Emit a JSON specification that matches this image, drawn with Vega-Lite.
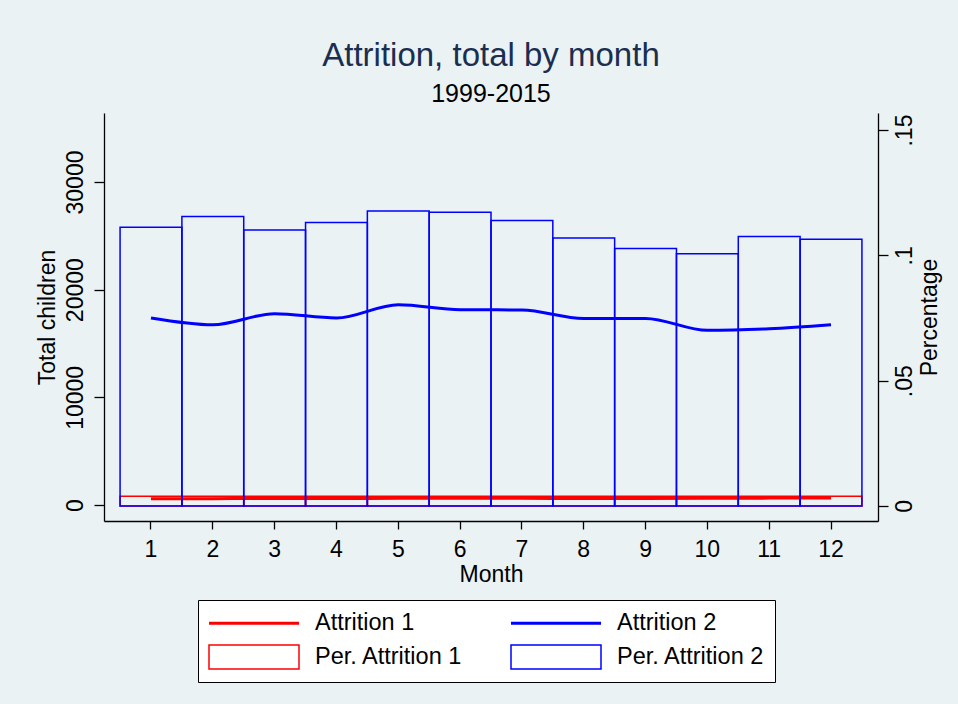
{
  "$schema": "https://vega.github.io/schema/vega-lite/v6.json",
  "width": 774,
  "height": 408,
  "autosize": {"type": "none"},
  "padding": {"left": 104, "top": 113, "right": 80, "bottom": 183},
  "background": "#EAF2F3",
  "title": {
    "text": "Attrition, total by month",
    "subtitle": "1999-2015",
    "anchor": "middle",
    "frame": "group",
    "font": "Liberation Sans",
    "fontSize": 33,
    "fontWeight": "normal",
    "color": "#1A2E52",
    "subtitleFont": "Liberation Sans",
    "subtitleFontSize": 25,
    "subtitleColor": "#000000",
    "subtitlePadding": 9,
    "offset": 6
  },
  "data": {
    "values": [
      {"month": 1, "series": "Attrition 1", "value": 580},
      {"month": 2, "series": "Attrition 1", "value": 590},
      {"month": 3, "series": "Attrition 1", "value": 600},
      {"month": 4, "series": "Attrition 1", "value": 600},
      {"month": 5, "series": "Attrition 1", "value": 620},
      {"month": 6, "series": "Attrition 1", "value": 620},
      {"month": 7, "series": "Attrition 1", "value": 620},
      {"month": 8, "series": "Attrition 1", "value": 600},
      {"month": 9, "series": "Attrition 1", "value": 610},
      {"month": 10, "series": "Attrition 1", "value": 620},
      {"month": 11, "series": "Attrition 1", "value": 640},
      {"month": 12, "series": "Attrition 1", "value": 650},
      {"month": 1, "series": "Attrition 2", "value": 17370},
      {"month": 2, "series": "Attrition 2", "value": 16740},
      {"month": 3, "series": "Attrition 2", "value": 17770},
      {"month": 4, "series": "Attrition 2", "value": 17370},
      {"month": 5, "series": "Attrition 2", "value": 18600},
      {"month": 6, "series": "Attrition 2", "value": 18140},
      {"month": 7, "series": "Attrition 2", "value": 18110},
      {"month": 8, "series": "Attrition 2", "value": 17330},
      {"month": 9, "series": "Attrition 2", "value": 17330},
      {"month": 10, "series": "Attrition 2", "value": 16220},
      {"month": 11, "series": "Attrition 2", "value": 16370},
      {"month": 12, "series": "Attrition 2", "value": 16740},
      {"month": 1, "series": "Per. Attrition 1", "value": 0.0039},
      {"month": 2, "series": "Per. Attrition 1", "value": 0.0039},
      {"month": 3, "series": "Per. Attrition 1", "value": 0.0039},
      {"month": 4, "series": "Per. Attrition 1", "value": 0.0039},
      {"month": 5, "series": "Per. Attrition 1", "value": 0.0039},
      {"month": 6, "series": "Per. Attrition 1", "value": 0.0039},
      {"month": 7, "series": "Per. Attrition 1", "value": 0.0039},
      {"month": 8, "series": "Per. Attrition 1", "value": 0.0039},
      {"month": 9, "series": "Per. Attrition 1", "value": 0.0039},
      {"month": 10, "series": "Per. Attrition 1", "value": 0.0039},
      {"month": 11, "series": "Per. Attrition 1", "value": 0.0039},
      {"month": 12, "series": "Per. Attrition 1", "value": 0.0039},
      {"month": 1, "series": "Per. Attrition 2", "value": 0.1112},
      {"month": 2, "series": "Per. Attrition 2", "value": 0.1155},
      {"month": 3, "series": "Per. Attrition 2", "value": 0.1101},
      {"month": 4, "series": "Per. Attrition 2", "value": 0.1131},
      {"month": 5, "series": "Per. Attrition 2", "value": 0.1177},
      {"month": 6, "series": "Per. Attrition 2", "value": 0.1172},
      {"month": 7, "series": "Per. Attrition 2", "value": 0.1139},
      {"month": 8, "series": "Per. Attrition 2", "value": 0.1069},
      {"month": 9, "series": "Per. Attrition 2", "value": 0.1027},
      {"month": 10, "series": "Per. Attrition 2", "value": 0.1006},
      {"month": 11, "series": "Per. Attrition 2", "value": 0.1075},
      {"month": 12, "series": "Per. Attrition 2", "value": 0.1064}
    ]
  },
  "layer": [
    {
      "transform": [{"filter": "datum.series == 'Attrition 1' || datum.series == 'Attrition 2'"}],
      "mark": {"type": "line", "strokeWidth": 3, "interpolate": "monotone"},
      "encoding": {
        "x": {
          "field": "month",
          "type": "ordinal",
          "scale": {"type": "band", "paddingInner": 0, "paddingOuter": 0.26},
          "axis": {
            "title": "Month",
            "labelAngle": 0,
            "labelFontSize": 23,
            "titleFontSize": 23,
            "tickSize": 8,
            "labelPadding": 9,
            "titlePadding": 2,
            "grid": false
          }
        },
        "y": {
          "field": "value",
          "type": "quantitative",
          "scale": {"domain": [-1486, 36408], "nice": false, "zero": false},
          "axis": {
            "title": "Total children",
            "values": [0, 10000, 20000, 30000],
            "format": "d",
            "labelAngle": 270,
            "labelAlign": "center",
            "labelBaseline": "alphabetic",
            "labelFontSize": 23,
            "labelPadding": 12,
            "tickSize": 10,
            "titleFontSize": 23,
            "titlePadding": 5,
            "grid": true,
            "gridColor": "#EAF2F3",
            "gridWidth": 1.5
          }
        },
        "color": {
          "field": "series",
          "type": "nominal",
          "scale": {
            "domain": ["Attrition 1", "Attrition 2", "Per. Attrition 1", "Per. Attrition 2"],
            "range": ["#FF0000", "#0000FF", "#FF0000", "#0000FF"]
          },
          "legend": {
            "title": null,
            "orient": "none",
            "legendX": 94,
            "legendY": 487,
            "columns": 2,
            "direction": "horizontal",
            "gridAlign": "each",
            "columnPadding": 45,
            "rowPadding": 7,
            "padding": 10,
            "strokeColor": "#000000",
            "fillColor": "#FFFFFF",
            "labelFont": "Liberation Sans",
            "labelFontSize": 23.5,
            "labelColor": "#000000",
            "labelOffset": 81,
            "labelLimit": 400,
            "symbolSize": 576,
            "symbolStrokeWidth": 1.5,
            "symbolOpacity": 1
          }
        }
      }
    },
    {
      "transform": [{"filter": "datum.series == 'Per. Attrition 1' || datum.series == 'Per. Attrition 2'"}],
      "mark": {"type": "bar", "filled": false, "strokeWidth": 1.5},
      "encoding": {
        "x": {
          "field": "month",
          "type": "ordinal",
          "scale": {"type": "band", "paddingInner": 0, "paddingOuter": 0.26}
        },
        "y": {
          "field": "value",
          "type": "quantitative",
          "stack": null,
          "scale": {"domain": [-0.006, 0.1568], "nice": false, "zero": false},
          "axis": {
            "orient": "right",
            "title": "Percentage",
            "values": [0, 0.05, 0.1, 0.15],
            "labelExpr": "datum.value == 0 ? '0' : replace(toString(datum.value), '0.', '.')",
            "labelAngle": 270,
            "labelAlign": "center",
            "labelBaseline": "top",
            "labelFontSize": 23,
            "labelPadding": 5,
            "tickSize": 10,
            "titleAngle": 270,
            "titleFontSize": 23,
            "titlePadding": 25,
            "grid": false
          }
        },
        "color": {
          "field": "series",
          "type": "nominal",
          "scale": {
            "domain": ["Attrition 1", "Attrition 2", "Per. Attrition 1", "Per. Attrition 2"],
            "range": ["#FF0000", "#0000FF", "#FF0000", "#0000FF"]
          }
        }
      }
    },
    {
      "transform": [{"filter": "false"}],
      "mark": {"type": "point", "filled": false, "opacity": 1, "strokeWidth": 1.5},
      "encoding": {
        "color": {
          "field": "series",
          "type": "nominal",
          "scale": {
            "domain": ["Attrition 1", "Attrition 2", "Per. Attrition 1", "Per. Attrition 2"],
            "range": ["#FF0000", "#0000FF", "#FF0000", "#0000FF"]
          }
        },
        "shape": {
          "field": "series",
          "type": "nominal",
          "scale": {
            "domain": ["Attrition 1", "Attrition 2", "Per. Attrition 1", "Per. Attrition 2"],
            "range": [
              "M-1,-0.0625H6.5M-1,0.0625H6.5",
              "M-1,-0.0625H6.5M-1,0.0625H6.5",
              "M-1,-1H6.5V1H-1Z",
              "M-1,-1H6.5V1H-1Z"
            ]
          },
          "legend": {
            "title": null,
            "orient": "none",
            "legendX": 94,
            "legendY": 487,
            "columns": 2,
            "direction": "horizontal",
            "gridAlign": "each",
            "columnPadding": 45,
            "rowPadding": 7,
            "padding": 10,
            "strokeColor": "#000000",
            "fillColor": "#FFFFFF",
            "labelFont": "Liberation Sans",
            "labelFontSize": 23.5,
            "labelColor": "#000000",
            "labelOffset": 81,
            "labelLimit": 400,
            "symbolSize": 576,
            "symbolStrokeWidth": 1.5,
            "symbolOpacity": 1
          }
        }
      }
    }
  ],
  "resolve": {"scale": {"y": "independent"}, "axis": {"y": "independent"}},
  "config": {
    "font": "Liberation Sans",
    "view": {"stroke": null, "fill": "#FFFFFF"},
    "axis": {
      "labelFont": "Liberation Sans",
      "titleFont": "Liberation Sans",
      "labelColor": "#000000",
      "titleColor": "#000000",
      "domainColor": "#000000",
      "tickColor": "#000000",
      "domainWidth": 1.3,
      "tickWidth": 1.3,
      "titleFontWeight": "normal"
    }
  }
}
